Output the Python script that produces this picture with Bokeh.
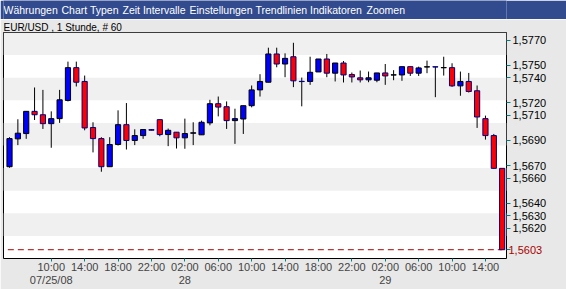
from bokeh.plotting import figure
from bokeh.layouts import column
from bokeh.models import (Range1d, FixedTicker, LinearAxis, BoxAnnotation, Title,
                          CustomJSTickFormatter, ColumnDataSource)
from bokeh.core.properties import value
from bokeh.embed import file_html
from bokeh.resources import INLINE

# ---------------- data ----------------
opens = [1.56691, 1.56913, 1.56955, 1.57132, 1.57105, 1.57034, 1.57074, 1.57219, 1.57480, 1.57370,
         1.57003, 1.56915, 1.56691, 1.56868, 1.57026, 1.56900, 1.56939, 1.56986, 1.57066, 1.56947,
         1.56966, 1.56921, 1.56958, 1.56945, 1.57040, 1.57193, 1.57169, 1.57058, 1.57071, 1.57177,
         1.57303, 1.57364, 1.57589, 1.57509, 1.57567, 1.57371, 1.57370, 1.57446, 1.57549, 1.57436,
         1.57517, 1.57425, 1.57399, 1.57383, 1.57380, 1.57438, 1.57421, 1.57422, 1.57488, 1.57436,
         1.57485, 1.57487, 1.57479, 1.57480, 1.57335, 1.57370, 1.57296, 1.57074, 1.56939, 1.56678]
highs = [1.56926, 1.57069, 1.57132, 1.57322, 1.57303, 1.57132, 1.57303, 1.57528, 1.57528, 1.57417,
         1.57045, 1.56926, 1.56926, 1.57140, 1.57198, 1.56989, 1.56987, 1.56990, 1.57066, 1.56995,
         1.56966, 1.57074, 1.57045, 1.57058, 1.57224, 1.57250, 1.57211, 1.57153, 1.57177, 1.57338,
         1.57428, 1.57639, 1.57639, 1.57594, 1.57678, 1.57401, 1.57567, 1.57549, 1.57589, 1.57517,
         1.57533, 1.57441, 1.57457, 1.57449, 1.57438, 1.57509, 1.57460, 1.57488, 1.57488, 1.57488,
         1.57536, 1.57487, 1.57567, 1.57515, 1.57449, 1.57438, 1.57338, 1.57098, 1.56952, 1.56678]
lows = [1.56683, 1.56863, 1.56913, 1.57063, 1.56992, 1.56842, 1.57040, 1.57211, 1.57330, 1.56981,
        1.56805, 1.56651, 1.56691, 1.56860, 1.56828, 1.56863, 1.56913, 1.56980, 1.56934, 1.56855,
        1.56836, 1.56834, 1.56863, 1.56945, 1.57021, 1.57092, 1.56992, 1.56873, 1.56952, 1.57164,
        1.57250, 1.57364, 1.57483, 1.57404, 1.57325, 1.57172, 1.57343, 1.57446, 1.57404, 1.57370,
        1.57362, 1.57362, 1.57362, 1.57364, 1.57364, 1.57343, 1.57380, 1.57375, 1.57414, 1.57414,
        1.57436, 1.57245, 1.57417, 1.57327, 1.57256, 1.57282, 1.57000, 1.56907, 1.56675, 1.56030]
closes = [1.56915, 1.56958, 1.57132, 1.57105, 1.57034, 1.57074, 1.57224, 1.57480, 1.57364, 1.57000,
          1.56915, 1.56691, 1.56868, 1.57026, 1.56900, 1.56939, 1.56987, 1.56982, 1.56947, 1.56981,
          1.56921, 1.56955, 1.56961, 1.57045, 1.57193, 1.57166, 1.57058, 1.57074, 1.57177, 1.57303,
          1.57370, 1.57589, 1.57509, 1.57554, 1.57375, 1.57369, 1.57443, 1.57549, 1.57436, 1.57517,
          1.57422, 1.57406, 1.57383, 1.57399, 1.57438, 1.57414, 1.57423, 1.57488, 1.57436, 1.57478,
          1.57487, 1.57485, 1.57481, 1.57335, 1.57370, 1.57290, 1.57087, 1.56939, 1.56678, 1.56030]

time_tick_idx = [5, 9, 13, 17, 21, 25, 29, 33, 37, 41, 45, 49, 53, 57]
time_tick_labels = ["10:00", "14:00", "18:00", "22:00", "02:00", "06:00", "10:00",
                    "14:00", "18:00", "22:00", "02:00", "06:00", "10:00", "14:00"]
date_tick_idx = [5, 21, 45]
date_tick_labels = ["07/25/08", "28", "29"]
price_ticks = [1.5770, 1.5750, 1.5740, 1.5720, 1.5710, 1.5690, 1.5670,
               1.5660, 1.5640, 1.5630, 1.5620, 1.5603]
last_price = 1.5603

menu_items = ["Währungen", "Chart Typen", "Zeit Intervalle", "Einstellungen",
              "Trendlinien", "Indikatoren", "Zoomen"]
chart_title = "EUR/USD , 1 Stunde, # 60"

# ---------------- styles ----------------
BG = "#e8e8e8"
HEADER = "#314b8e"
TEAL = "#008080"
DARKRED = "#a80000"
BAND = "#f0f0f0"
FONT = "'Liberation Sans', Arial, sans-serif"
LEFT, RIGHT = 3, 60

# ---------------- header (menu bar) ----------------
hdr = figure(width=566, height=19, x_range=Range1d(LEFT, 566 - RIGHT), y_range=Range1d(19, 0),
             output_backend="svg", toolbar_location=None,
             x_axis_location=None, y_axis_location=None,
             min_border_left=LEFT, min_border_right=RIGHT, min_border_top=0, min_border_bottom=0,
             background_fill_color=HEADER, border_fill_color=HEADER, outline_line_color=None)
hdr.grid.visible = False
menu_x = [3, 61, 122, 189, 255, 309.5, 366]
hdr.text(x=menu_x, y=[9.5] * len(menu_items), text=menu_items, text_color="white",
         text_font=value(FONT), text_font_size="10.5px", text_baseline="middle")

# ---------------- main chart ----------------
n = len(opens)
idx = list(range(n))
up = [c >= o for o, c in zip(opens, closes)]
src = ColumnDataSource(dict(
    x=idx, top=[max(o, c) for o, c in zip(opens, closes)],
    bottom=[min(o, c) for o, c in zip(opens, closes)],
    high=highs, low=lows,
    fill=["#0000ff" if u else "#ff0000" for u in up],
    line=["#000000" if u else "#000080" for u in up],
))

ymin, ymax = 1.5596, 1.5776
x_start, x_end = -0.72, 59.52
p = figure(width=566, height=270, x_range=Range1d(x_start, x_end), y_range=Range1d(ymin, ymax),
           output_backend="svg", toolbar_location=None, y_axis_location="right",
           x_axis_location=None,
           min_border_left=LEFT, min_border_right=RIGHT, min_border_top=12, min_border_bottom=31,
           background_fill_color="white", border_fill_color=BG,
           outline_line_color="black", outline_line_width=1)
p.grid.visible = False
p.title = Title(text=chart_title, align="left", offset=0, standoff=0,
                text_font=FONT, text_font_size="10px", text_font_style="normal",
                text_color="black")

nb = 10
step = (ymax - ymin) / nb
for k in range(nb):
    if k % 2 == 1:
        p.add_layout(BoxAnnotation(bottom=ymin + k * step, top=ymin + (k + 1) * step,
                                   fill_color=BAND, fill_alpha=1, line_color=None,
                                   level="underlay"))

p.segment(x0=[idx[0] - 0.2], x1=[idx[-1]], y0=[last_price], y1=[last_price],
          line_color=DARKRED, line_width=1, line_dash="6 4")
p.segment(x0="x", x1="x", y0="low", y1="high", source=src, line_color="black", line_width=1)
p.vbar(x="x", width=0.62, top="top", bottom="bottom", source=src,
       fill_color="fill", line_color="line", line_width=1)

# y axis (right): black labels, teal ticks
ya = p.yaxis[0]
ya.ticker = FixedTicker(ticks=price_ticks)
ya.formatter = CustomJSTickFormatter(args=dict(skip=last_price), code="""
    if (Math.abs(tick - skip) < 1e-7) { return ''; }
    return tick.toFixed(4).replace('.', ',');
""")
ya.axis_line_color = None
ya.major_tick_line_color = TEAL
ya.major_tick_in = 0
ya.major_tick_out = 4
ya.minor_tick_line_color = None
ya.major_label_standoff = 2
ya.major_label_text_font = FONT
ya.major_label_text_font_size = "11px"
ya.major_label_text_color = "black"

# second right axis: only the last price, in dark red, pulled back next to the first
ra = LinearAxis(ticker=FixedTicker(ticks=[last_price]),
                formatter=CustomJSTickFormatter(code="return tick.toFixed(4).replace('.', ',');"))
ra.axis_line_color = None
ra.major_tick_line_color = None
ra.major_tick_in = 0
ra.major_tick_out = 0
ra.minor_tick_line_color = None
ra.major_label_standoff = -41
ra.major_label_text_font = FONT
ra.major_label_text_font_size = "11px"
ra.major_label_text_color = DARKRED
p.add_layout(ra, "right")

# x axis: times
xa = LinearAxis(ticker=FixedTicker(ticks=time_tick_idx),
                major_label_overrides={i: s for i, s in zip(time_tick_idx, time_tick_labels)})
xa.axis_line_color = None
xa.major_tick_line_color = TEAL
xa.major_tick_in = 0
xa.major_tick_out = 3
xa.minor_tick_line_color = None
xa.major_label_standoff = -1
xa.major_label_text_font = FONT
xa.major_label_text_font_size = "11px"
p.add_layout(xa, "below")

# x axis: dates
da = LinearAxis(ticker=FixedTicker(ticks=date_tick_idx),
                major_label_overrides={i: s for i, s in zip(date_tick_idx, date_tick_labels)})
da.axis_line_color = None
da.major_tick_line_color = None
da.major_tick_in = 0
da.major_tick_out = 0
da.minor_tick_line_color = None
da.major_label_standoff = -2
da.major_label_text_font = FONT
da.major_label_text_font_size = "11px"
p.add_layout(da, "below")

layout = column(hdr, p, spacing=0)
open("out.html", "w").write(file_html(layout, INLINE))
